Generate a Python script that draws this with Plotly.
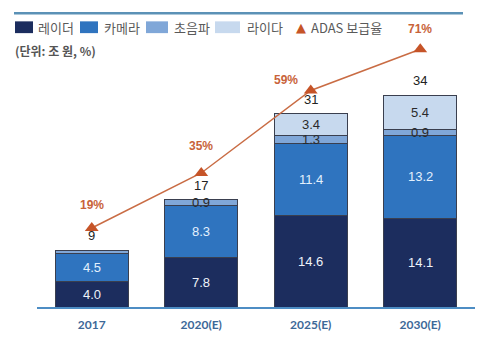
import plotly.graph_objects as go

# ---- data ----
years = ["2017", "2020(E)", "2025(E)", "2030(E)"]
radar = [4.0, 7.8, 14.6, 14.1]          # 레이더
camera = [4.5, 8.3, 11.4, 13.2]         # 카메라
ultrasonic = [0.5, 0.9, 1.3, 0.9]       # 초음파
lidar = [0.0, 0.0, 3.4, 5.4]            # 라이다
totals = [9, 17, 31, 34]                # 합계 (조 원)
adas_rate = [19, 35, 59, 71]            # ADAS 보급율 (%)

# which segments carry a value label
ultra_labeled = [False, True, True, True]
lidar_labeled = [False, False, True, True]

# ---- styling ----
W, H = 483, 340
L, R, T, B = 37, 8, 40, 28
PW, PH = W - L - R, H - T - B

C_RADAR = "#1c2d5e"
C_CAMERA = "#2f74bf"
C_ULTRA = "#80a7d8"
C_LIDAR = "#c7d9ee"
C_ADAS = "#c65428"
C_ADAS_LINE = "#c96c44"
C_EDGE = "#3a3f4f"
NUM_FONT = "Liberation Sans, Arial, sans-serif"
KR_FONT = "Noto Sans CJK KR, Noto Sans, sans-serif"


def px(x):
    return (x - L) / PW


def py(y):
    return (H - B - y) / PH


fig = go.Figure()

series = [
    ("레이더", radar, C_RADAR),
    ("카메라", camera, C_CAMERA),
    ("초음파", ultrasonic, C_ULTRA),
    ("라이다", lidar, C_LIDAR),
]
for name, vals, col in series:
    fig.add_trace(go.Bar(
        x=years, y=vals, name=name, marker_color=col,
        marker_line=dict(color=C_EDGE, width=1), width=0.667,
        showlegend=False, hoverinfo="skip",
    ))

fig.add_trace(go.Scatter(
    x=years, y=adas_rate, yaxis="y2", mode="lines+markers",
    line=dict(color=C_ADAS_LINE, width=1.5),
    marker=dict(symbol="triangle-up", size=12, color=C_ADAS),
    cliponaxis=False, showlegend=False, hoverinfo="skip",
))

ann = []
# segment value labels at segment midpoints (x given as category index)
for i in range(len(years)):
    base = 0.0
    segs = [
        (radar[i], "#eef2fa", True),
        (camera[i], "#e3f0fd", True),
        (ultrasonic[i], "#2a2a2a", ultra_labeled[i]),
        (lidar[i], "#2a2a2a", lidar_labeled[i]),
    ]
    for v, col, show in segs:
        if show:
            ann.append(dict(x=i, y=base + v / 2, xref="x", yref="y",
                            text=f"{v:.1f}", showarrow=False,
                            xanchor="center", yanchor="middle",
                            font=dict(family=NUM_FONT, size=13, color=col)))
        base += v
    # total above the stack
    ann.append(dict(x=i, y=base, xref="x", yref="y", text=str(totals[i]),
                    showarrow=False, xanchor="center", yanchor="bottom",
                    yshift=5,
                    font=dict(family=NUM_FONT, size=13, color="#222222")))

# ADAS rate labels
pct_shift = [(0, 14), (0, 18), (-25, 2), (0, 11)]
for i in range(len(years)):
    dx, dy = pct_shift[i]
    ann.append(dict(x=i, y=adas_rate[i], xref="x", yref="y2",
                    text=f"<b>{adas_rate[i]}%</b>", showarrow=False,
                    xanchor="center", yanchor="bottom", xshift=dx, yshift=dy,
                    font=dict(family=NUM_FONT, size=12, color="#c8633a")))

# legend
legend_items = [
    (15, 33, C_RADAR, 36, "레이더"),
    (80, 98, C_CAMERA, 102, "카메라"),
    (146, 168, C_ULTRA, 172, "초음파"),
    (215, 240, C_LIDAR, 245, "라이다"),
]
shapes = []
for x0, x1, col, tx, label in legend_items:
    shapes.append(dict(type="rect", xref="paper", yref="paper",
                       x0=px(x0), x1=px(x1), y0=py(33), y1=py(21),
                       fillcolor=col, line=dict(width=0)))
    ann.append(dict(x=px(tx), y=py(27), xref="paper", yref="paper",
                    text=label, showarrow=False, xanchor="left",
                    yanchor="middle",
                    font=dict(family=KR_FONT, size=13, color="#5a5a5a")))
ann.append(dict(x=px(301), y=py(27), xref="paper", yref="paper",
                text="▲", showarrow=False, xanchor="center", yanchor="middle",
                font=dict(family="DejaVu Sans", size=13, color=C_ADAS)))
ann.append(dict(x=px(309), y=py(27), xref="paper", yref="paper",
                text="ADAS 보급율", showarrow=False, xanchor="left",
                yanchor="middle",
                font=dict(family=KR_FONT, size=13, color="#5a5a5a")))
ann.append(dict(x=px(13), y=py(51), xref="paper", yref="paper",
                text="<b>(단위: 조 원, %)</b>", showarrow=False, xanchor="left",
                yanchor="middle",
                font=dict(family=KR_FONT, size=12, color="#555555")))

# header rule
shapes.append(dict(type="line", xref="paper", yref="paper",
                   x0=px(14), x1=px(463), y0=py(12.7), y1=py(12.7),
                   line=dict(color="#5b91b6", width=2.5)))

fig.update_layout(
    width=W, height=H,
    margin=dict(l=L, r=R, t=T, b=B),
    paper_bgcolor="white", plot_bgcolor="white",
    barmode="stack", bargap=0.333,
    showlegend=False,
    annotations=ann, shapes=shapes,
    xaxis=dict(
        type="category",
        range=[-0.5, 3.5], showgrid=False, zeroline=False,
        showline=True, linecolor="#4d8dc4", linewidth=1.5,
        ticks="", tickfont=dict(family="Lato, sans-serif", size=12,
                                color="#3d6898", weight="bold"),
        ticklabelstandoff=6,
    ),
    yaxis=dict(range=[0, 42.4], visible=False, fixedrange=True),
    yaxis2=dict(range=[-4.0, 73.7], overlaying="y", side="right",
                visible=False),
)

fig.write_html("out.html")
